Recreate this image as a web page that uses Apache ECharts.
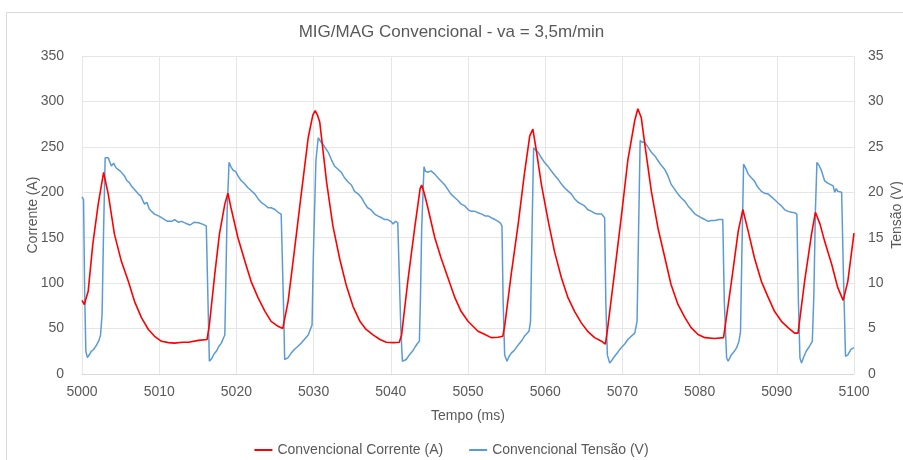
<!DOCTYPE html>
<html>
<head>
<meta charset="utf-8">
<script src="https://cdn.jsdelivr.net/npm/echarts@6/dist/echarts.min.js"></script>
<style>html,body{margin:0;padding:0;background:#fff}#c{width:903px;height:460px}</style>
</head>
<body>
<div id="c"></div>
<script>
const titleText = 'MIG/MAG Convencional - va = 3,5m/min';
const seriesNames = ['Convencional Corrente (A)', 'Convencional Tensão (V)'];
const xTicks = [5000, 5010, 5020, 5030, 5040, 5050, 5060, 5070, 5080, 5090, 5100];

const currentTime = [5000.0,5000.3,5000.8,5001.4,5002.1,5002.8,5003.4,5004.2,5005.1,5006.0,5006.8,5007.7,5008.6,5009.4,5010.3,5011.2,5012.0,5013.0,5013.8,5015.1,5016.2,5016.5,5017.2,5017.8,5018.5,5018.9,5019.3,5020.2,5021.1,5021.9,5022.8,5023.7,5024.5,5025.4,5026.0,5026.7,5027.5,5028.4,5029.3,5029.9,5030.2,5030.5,5030.8,5031.7,5032.5,5033.4,5034.25,5035.1,5036.0,5036.8,5037.7,5038.6,5039.4,5040.3,5041.1,5041.4,5042.2,5043.1,5043.8,5044.0,5044.3,5044.8,5045.7,5046.5,5047.4,5048.3,5049.1,5050.0,5051.3,5052.2,5053.0,5053.9,5054.5,5054.75,5055.6,5056.5,5057.3,5058.0,5058.4,5058.85,5059.5,5060.4,5061.2,5062.1,5062.95,5063.8,5064.7,5065.5,5066.4,5067.3,5067.8,5068.1,5069.0,5069.9,5070.7,5071.6,5072.0,5072.2,5072.45,5072.9,5073.75,5074.6,5075.5,5076.3,5077.2,5078.1,5078.9,5079.8,5080.7,5081.95,5083.1,5084.1,5085.0,5085.6,5086.3,5087.1,5088.0,5088.9,5089.7,5090.6,5091.45,5092.3,5092.75,5093.6,5094.5,5095.0,5095.6,5096.2,5097.1,5097.9,5098.6,5099.2,5100.0];
const currentValues = [81,76.5,91,143,187,222,198,154,124,102,80,62,49,41.5,36,34.5,34,35,35,37,38,54,110,154,187,199,183,150,124,102,84,69,58,52.5,50,80,135,198,260,285,290,285,277,210,163,126,97,74.5,58,49,43,38,35,34.5,35,43,102,161,204,208,200,183,150,128,106,84,69,58,47,43.4,40,40.5,41.5,52.6,110,165,220,262,269.5,246,209,168,135,106,84,69,56,47,40,36,33,51,113,176,235,279,292,290,282,253,201,161,128,98.5,76.5,62,51,43.5,40,39,40,100,157,181,157,128,102,84,69,58,51,45,45,102,154,178,165,146,121,95,81,102,155];

const voltageTime = [5000.0,5000.2,5000.35,5000.5,5000.7,5001.0,5001.2,5001.5,5001.9,5002.2,5002.4,5002.6,5002.8,5003.0,5003.2,5003.4,5003.8,5004.1,5004.4,5004.7,5005.0,5005.5,5005.8,5006.1,5006.4,5006.8,5007.0,5007.3,5007.6,5008.1,5008.4,5008.7,5009.0,5009.4,5009.9,5010.3,5010.7,5011.1,5011.6,5012.0,5012.5,5012.9,5013.4,5014.0,5014.5,5015.1,5015.6,5016.1,5016.3,5016.4,5016.5,5016.8,5017.1,5017.4,5017.7,5018.05,5018.3,5018.5,5018.6,5018.8,5019.05,5019.3,5019.6,5019.9,5020.2,5020.6,5021.0,5021.5,5021.9,5022.4,5022.8,5023.2,5023.7,5024.1,5024.5,5025.0,5025.4,5025.8,5026.05,5026.15,5026.25,5026.7,5027.1,5027.5,5027.9,5028.4,5028.8,5029.3,5029.8,5029.95,5030.3,5030.6,5030.9,5031.2,5031.5,5031.9,5032.3,5032.7,5033.2,5033.6,5034.0,5034.5,5034.9,5035.3,5035.8,5036.2,5036.6,5037.0,5037.4,5037.9,5038.3,5038.8,5039.2,5039.6,5040.0,5040.3,5040.6,5040.9,5041.1,5041.3,5041.5,5041.7,5042.0,5042.4,5042.8,5043.1,5043.4,5043.7,5043.85,5044.0,5044.3,5044.5,5044.8,5045.2,5045.7,5046.1,5046.5,5047.0,5047.4,5047.8,5048.3,5048.7,5049.1,5049.6,5050.0,5050.4,5050.9,5051.3,5051.8,5052.2,5052.6,5053.0,5053.5,5053.9,5054.2,5054.4,5054.55,5054.75,5055.05,5055.3,5055.6,5056.0,5056.5,5056.9,5057.3,5057.9,5058.1,5058.3,5058.5,5058.8,5059.1,5059.5,5059.9,5060.4,5060.8,5061.3,5061.7,5062.1,5062.5,5063.0,5063.4,5063.8,5064.25,5064.7,5065.1,5065.5,5066.0,5066.4,5066.8,5067.3,5067.7,5067.85,5068.05,5068.35,5068.7,5069.0,5069.4,5069.85,5070.3,5070.7,5071.2,5071.6,5071.9,5072.1,5072.3,5072.6,5072.9,5073.3,5073.75,5074.2,5074.6,5075.0,5075.5,5075.9,5076.3,5076.8,5077.2,5077.6,5078.1,5078.5,5078.9,5079.4,5079.8,5080.2,5080.7,5081.1,5081.5,5082.0,5082.5,5083.0,5083.2,5083.5,5083.7,5084.1,5084.5,5084.8,5085.1,5085.3,5085.45,5085.7,5086.0,5086.3,5086.7,5087.1,5087.5,5088.0,5088.4,5088.9,5089.3,5089.7,5090.2,5090.6,5091.0,5091.45,5091.9,5092.3,5092.6,5092.8,5093.0,5093.2,5093.5,5093.8,5094.2,5094.6,5094.8,5095.0,5095.2,5095.5,5095.8,5096.2,5096.6,5096.85,5097.3,5097.5,5097.7,5097.9,5098.1,5098.4,5098.6,5098.9,5099.2,5099.6,5100.0];
const voltageValues = [19.5,19.2,8.7,2.5,1.8,2.2,2.5,2.7,3.2,3.7,4.3,6.5,16,23.8,24.0,23.8,22.9,23.2,22.7,22.5,22.3,21.8,21.3,21.1,20.7,20.3,20.5,19.8,19.6,18.7,18.9,18.2,17.9,17.6,17.4,17.2,17.0,16.8,16.8,17.0,16.7,16.8,16.6,16.4,16.7,16.65,16.5,16.3,16.4,5,1.4,1.7,2.2,2.5,3.0,3.4,3.9,4.3,8.7,18,23.3,22.8,22.4,22.3,21.8,21.3,21.0,20.5,20.2,19.8,19.3,18.9,18.6,18.3,18.3,18.1,17.8,17.6,17.4,6,1.6,1.8,2.3,2.7,3.0,3.4,3.8,4.3,5.4,12.4,23.5,26.0,25.6,25.3,24.9,24.4,23.6,22.9,22.5,22.2,21.6,21.1,20.8,20.1,19.8,19.4,18.8,18.3,18.1,17.6,17.4,17.2,17.0,17.0,16.8,16.5,16.8,16.65,16.5,5,1.4,1.2,1.6,2.1,2.5,2.9,3.3,3.6,8.7,16,22.8,22.3,22.2,22.35,22.0,21.6,21.25,20.8,20.3,19.8,19.4,19.1,18.7,18.5,18.1,17.9,17.9,17.75,17.6,17.4,17.4,17.2,17.0,16.8,16.6,16.3,8,2.1,1.4,1.9,2.3,2.6,3.2,3.6,4.15,4.7,5.8,16,24.9,24.6,24.4,23.8,23.3,22.8,22.35,21.8,21.4,20.9,20.5,20.1,19.8,19.3,18.9,18.7,18.5,18.1,17.9,17.7,17.6,17.6,17.2,8,2.1,1.2,1.6,1.95,2.4,2.9,3.3,3.8,4.2,4.5,5.8,16,25.7,25.5,25.5,25.0,24.4,24.0,23.5,23.0,22.5,21.8,20.9,20.3,19.8,19.4,19.0,18.5,18.1,17.6,17.4,17.2,17.0,16.8,16.9,16.9,17.0,17.0,8,1.76,1.4,2.1,2.5,2.9,3.6,4.7,12,23.1,22.6,22.0,21.6,21.25,20.6,20.1,19.9,19.8,19.5,19.2,18.8,18.5,18.1,17.9,17.8,17.75,17.6,8,1.76,1.2,1.9,2.5,3.0,3.6,8.7,18,23.3,22.9,22.35,21.25,21.0,20.9,20.7,20.0,20.4,20.1,20.3,20.0,12,1.95,2.1,2.7,2.9];

const currentData = currentTime.map((t, i) => [t, currentValues[i]]);
const voltageData = voltageTime.map((t, i) => [t, voltageValues[i]]);

const FONT = 'Liberation Sans';
const TXT = '#595959';
const chart = echarts.init(document.getElementById('c'), null, {renderer: 'canvas'});
chart.setOption({
  animation: false,
  backgroundColor: '#ffffff',
  textStyle: {fontFamily: FONT},
  graphic: [{
    type: 'rect', silent: true, z: -10,
    shape: {x: 6.5, y: 12.5, width: 910, height: 460},
    style: {fill: 'none', stroke: '#d9d9d9', lineWidth: 1}
  }],
  title: {
    text: titleText, left: 'center', top: 19,
    textStyle: {fontFamily: FONT, fontSize: 17, fontWeight: 'normal', color: TXT}
  },
  legend: {
    top: 438, left: 'center', itemGap: 26, itemWidth: 18, itemHeight: 2, icon: 'rect',
    textStyle: {fontFamily: FONT, fontSize: 14, color: TXT},
    data: seriesNames
  },
  grid: {left: 82, right: 49, top: 56, bottom: 86, outerBoundsMode: 'none'},
  xAxis: {
    type: 'value', min: xTicks[0], max: xTicks[xTicks.length - 1], interval: 10,
    name: 'Tempo (ms)', nameLocation: 'middle', nameGap: 35, nameMoveOverlap: false,
    nameTextStyle: {fontFamily: FONT, fontSize: 14, color: TXT},
    axisLine: {show: true, lineStyle: {color: '#d9d9d9'}},
    axisTick: {show: false},
    axisLabel: {fontFamily: FONT, fontSize: 14, color: TXT, margin: 11, formatter: v => String(v)},
    splitLine: {show: true, lineStyle: {color: '#e6e6e6'}}
  },
  yAxis: [{
    type: 'value', min: 0, max: 350, interval: 50, position: 'left',
    name: 'Corrente (A)', nameLocation: 'middle', nameGap: 42, nameRotate: 90, nameMoveOverlap: false,
    nameTextStyle: {fontFamily: FONT, fontSize: 14, color: TXT},
    axisLine: {show: false}, axisTick: {show: false},
    axisLabel: {fontFamily: FONT, fontSize: 14, color: TXT, margin: 18},
    splitLine: {show: true, lineStyle: {color: '#e6e6e6'}}
  }, {
    type: 'value', min: 0, max: 35, interval: 5, position: 'right',
    name: 'Tensão (V)', nameLocation: 'middle', nameGap: 36, nameRotate: 90, nameMoveOverlap: false,
    nameTextStyle: {fontFamily: FONT, fontSize: 14, color: TXT},
    axisLine: {show: false}, axisTick: {show: false},
    axisLabel: {fontFamily: FONT, fontSize: 14, color: TXT, margin: 14},
    splitLine: {show: false}
  }],
  series: [{
    name: seriesNames[0], type: 'line', yAxisIndex: 0, data: currentData,
    showSymbol: false, symbol: 'none',
    lineStyle: {color: '#ff0000', width: 1.6}, itemStyle: {color: '#ff0000'}, z: 3
  }, {
    name: seriesNames[1], type: 'line', yAxisIndex: 1, data: voltageData,
    showSymbol: false, symbol: 'none',
    lineStyle: {color: '#5b9bd5', width: 1.5}, itemStyle: {color: '#5b9bd5'}, z: 2
  }]
});
</script>
</body>
</html>
